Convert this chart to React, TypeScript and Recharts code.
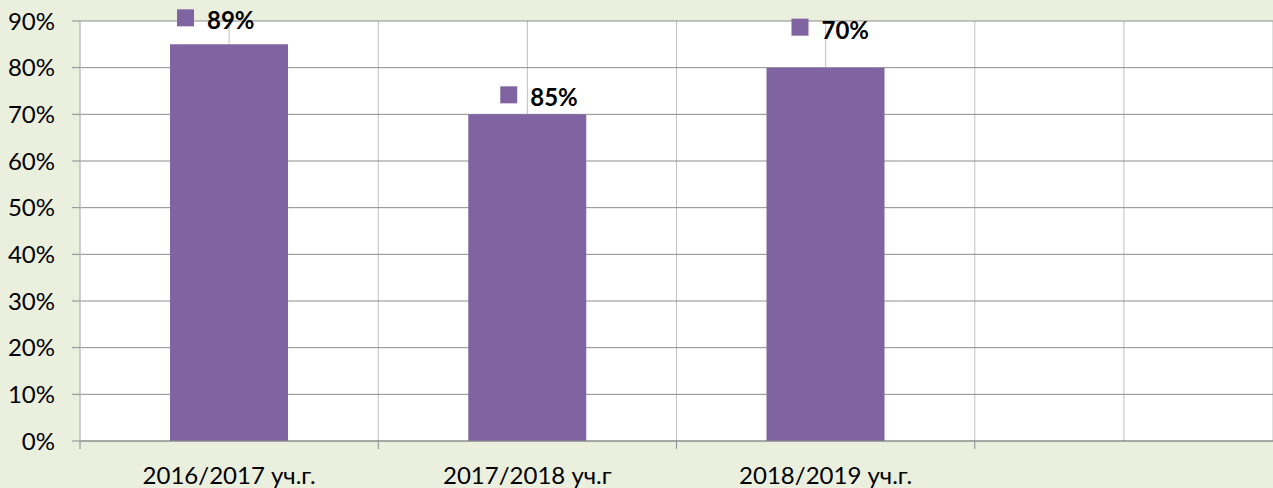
import React from 'react';
import { BarChart, Bar, XAxis, YAxis, CartesianGrid, LabelList } from 'recharts';

// ---- data ----
const categories = ['2016/2017 уч.г.', '2017/2018 уч.г', '2018/2019 уч.г.', ''];
const barValues: (number | null)[] = [0.85, 0.7, 0.8, null];
const labelTexts = ['89%', '85%', '70%', ''];
const yTicks = [0, 0.1, 0.2, 0.3, 0.4, 0.5, 0.6, 0.7, 0.8, 0.9];

const data = categories.map((name, i) => ({ name, value: barValues[i], label: labelTexts[i] }));

// ---- layout / style (manually placed data labels, like the original) ----
const labelNudge = [
  { dx: -52, dy: -35 },
  { dx: -27, dy: -28 },
  { dx: -34, dy: -49 },
];
const PURPLE = '#8064A2';
const BG = '#EBEFDE';
const FONT = 'Lato, "Noto Sans", sans-serif';

const W = 1273;
const H = 488;
const Y_AXIS_W = 80;
const X_AXIS_H = 47;

if (typeof document !== 'undefined') {
  document.documentElement.style.overflow = 'hidden';
  document.body.style.margin = '0';
  document.body.style.overflow = 'hidden';
}

const XTick = (props: any) => {
  const { x, y, payload } = props;
  const half =
    payload && typeof payload.offset === 'number' && payload.offset > 0 ? payload.offset : (W - Y_AXIS_W) / 8;
  return (
    <g>
      <line x1={x - half} x2={x - half} y1={y - 8} y2={y} stroke="#8c8c8c" strokeWidth={1} />
      <text x={x} y={y + 35} textAnchor="middle" fontSize={24} fill="#000" fontFamily={FONT}>
        {payload.value}
      </text>
    </g>
  );
};

const DataLabel = (props: any) => {
  const { x, y, width, index, value } = props;
  if (!value || index >= labelNudge.length) return null;
  const cx = Number(x) + Number(width) / 2;
  const top = Number(y);
  const n = labelNudge[index];
  const sx = cx + n.dx;
  const sy = top + n.dy;
  return (
    <g>
      <rect x={sx} y={sy} width={17} height={17} fill={PURPLE} />
      <text x={sx + 30} y={sy + 20} fontSize={24} fontWeight="bold" fill="#000" fontFamily={FONT}>
        {value}
      </text>
    </g>
  );
};

const halfBandLines = (p: any) => {
  const o = p && p.offset ? p.offset : { left: Y_AXIS_W, width: (p?.width ?? W) - Y_AXIS_W };
  const arr: number[] = [];
  for (let i = 0; i <= 8; i++) arr.push(o.left + (i * o.width) / 8);
  return arr;
};

export default function App() {
  return (
    <div
      style={{
        position: 'fixed',
        left: 0,
        top: 0,
        width: W,
        height: H,
        background: BG,
        overflow: 'hidden',
        fontFamily: FONT,
      }}
    >
      <BarChart
        width={W}
        height={H}
        data={data}
        margin={{ top: 21, right: 0, bottom: 0, left: 0 }}
        barSize={118}
      >
        <CartesianGrid
          horizontal={false}
          vertical
          fill="#ffffff"
          stroke="#c0c0c0"
          verticalCoordinatesGenerator={halfBandLines}
        />
        <CartesianGrid vertical={false} horizontal stroke="#8c8c8c" />
        <XAxis
          dataKey="name"
          type="category"
          interval={0}
          tickLine={false}
          tickSize={8}
          tickMargin={0}
          axisLine={{ stroke: '#8c8c8c' }}
          tick={<XTick />}
          height={X_AXIS_H}
        />
        <YAxis
          type="number"
          domain={[0, 0.9]}
          ticks={yTicks}
          interval={0}
          width={Y_AXIS_W}
          tickSize={8}
          tickMargin={17}
          axisLine={{ stroke: '#c0c0c0' }}
          tickLine={{ stroke: '#8c8c8c' }}
          tick={{ fill: '#000', fontSize: 24, fontFamily: FONT }}
          tickFormatter={(v: number) => `${Math.round(v * 100)}%`}
        />
        <Bar dataKey="value" fill={PURPLE} isAnimationActive={false}>
          <LabelList dataKey="label" content={<DataLabel />} />
        </Bar>
      </BarChart>
    </div>
  );
}
